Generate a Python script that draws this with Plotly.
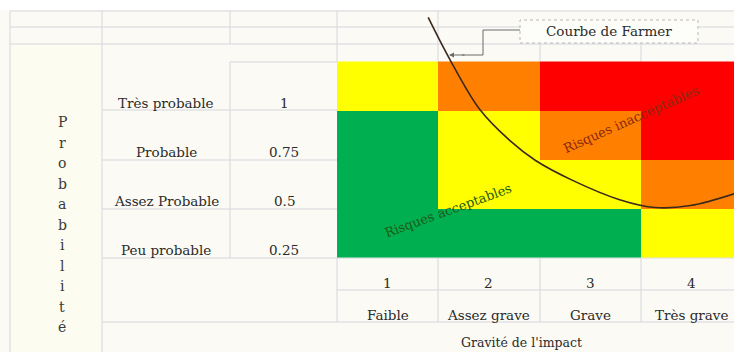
import plotly.graph_objects as go

W, H = 734, 352

# Risk matrix data: probability rows x severity columns
severity = [1, 2, 3, 4]
severity_labels = ["Faible", "Assez grave", "Grave", "Très grave"]
probability = [0.25, 0.5, 0.75, 1]
probability_labels = ["Peu probable", "Assez Probable", "Probable", "Très probable"]
probability_ticks = ["0.25", "0.5", "0.75", "1"]

# risk level per cell (0 = green, 1 = yellow, 2 = orange, 3 = red), rows follow `probability`
risk_level = [
    [0, 0, 0, 1],
    [0, 1, 1, 2],
    [0, 1, 2, 3],
    [1, 2, 3, 3],
]

# Farmer curve (severity, probability)
farmer_x = [1.40, 1.62, 1.91, 2.21, 2.46, 2.82, 3.29, 3.64, 3.99, 4.42]
farmer_y = [1.35, 1.13, 0.88, 0.72, 0.62, 0.52, 0.42, 0.38, 0.39, 0.45]

XR = [-2.827, 4.419]
YR = [-0.357, 1.4388]

BG = "#fbfaf4"
GRID = "#d6d6de"
TXT = "#2a2a2a"
FONT = "DejaVu Serif"
FS = 13.5


def px(x):
    return x / W


def py(y):
    return 1 - y / H


fig = go.Figure()

fig.add_trace(go.Heatmap(
    x=severity, y=probability, z=risk_level,
    zmin=0, zmax=3,
    colorscale=[
        [0.0, "#00b050"], [0.25, "#00b050"],
        [0.25, "#ffff00"], [0.5, "#ffff00"],
        [0.5, "#ff8000"], [0.75, "#ff8000"],
        [0.75, "#ff0000"], [1.0, "#ff0000"],
    ],
    showscale=False, hoverinfo="skip",
))

fig.add_trace(go.Scatter(
    x=farmer_x, y=farmer_y, mode="lines",
    line=dict(color="#3b2a1c", width=1.6, shape="spline", smoothing=1.0),
    hoverinfo="skip", cliponaxis=False,
))

shapes = []
# white strip at the very top
shapes.append(dict(type="rect", xref="paper", yref="paper", x0=0, x1=1, y0=py(10), y1=1,
                   fillcolor="white", line_width=0, layer="below"))
# slightly warmer left column
shapes.append(dict(type="rect", xref="paper", yref="paper", x0=px(10), x1=px(102), y0=0, y1=py(44),
                   fillcolor="#fdfcf0", line_width=0, layer="below"))


def hline(y, x0, x1):
    shapes.append(dict(type="line", xref="paper", yref="paper", x0=px(x0), x1=px(x1),
                       y0=py(y), y1=py(y), line=dict(color=GRID, width=1), layer="below"))


def vline(x, y0, y1):
    shapes.append(dict(type="line", xref="paper", yref="paper", x0=px(x), x1=px(x),
                       y0=py(y0), y1=py(y1), line=dict(color=GRID, width=1), layer="below"))


# spreadsheet grid
hline(11, 10, W)
hline(27, 10, W)
hline(44, 10, W)
hline(62, 230, 337)
for yy in (110, 160, 209, 258):
    hline(yy, 102, 337)
hline(258, 337, W)
hline(290, 337, W)
hline(322, 102, W)
vline(10, 11, H)
vline(102, 11, H)
vline(230, 11, 44)
vline(230, 62, 258)
vline(337, 11, 62)
vline(438, 11, 62)
vline(540, 44, 62)
vline(641, 44, 62)
for xx in (337, 438, 540, 641):
    vline(xx, 258, 322)

# callout box for the curve name
shapes.append(dict(type="rect", xref="paper", yref="paper", x0=px(520), x1=px(698),
                   y0=py(43), y1=py(20), fillcolor="#fdfdf9",
                   line=dict(color="#b8b8b8", width=1, dash="dot")))
shapes.append(dict(type="path", xref="paper", yref="paper",
                   path=f"M {px(520)} {py(30)} L {px(483)} {py(30)} L {px(483)} {py(55)} L {px(462)} {py(55)}",
                   line=dict(color="#6a6a6a", width=1)))


def label(x, y, text, size=FS, color=TXT, xref="paper", yref="paper", **kw):
    return dict(x=x, y=y, xref=xref, yref=yref, text=text, showarrow=False,
                xanchor="center", yanchor="middle",
                font=dict(family=FONT, size=size, color=color), **kw)


annotations = []
annotations.append(label(px(609), py(31.5), "Courbe de Farmer"))
annotations.append(dict(xref="paper", yref="paper", x=px(449), y=py(55), ax=17, ay=0,
                        axref="pixel", ayref="pixel", text="", showarrow=True,
                        arrowhead=2, arrowsize=1, arrowwidth=1, arrowcolor="#6a6a6a"))

# row labels (bottom aligned in their cells)
for p, lab, tick in zip(probability, probability_labels, probability_ticks):
    annotations.append(label(px(166), p, lab, yref="y", yshift=-16.5))
    annotations.append(label(px(284), p, tick, yref="y", yshift=-16.5))

# column labels
for s, lab in zip(severity, severity_labels):
    annotations.append(label(s, py(283), str(s), xref="x"))
    annotations.append(label(s, py(315), lab, xref="x"))

annotations.append(label(px(521), py(342), "Gravité de l'impact", size=12.5))

# vertical axis title, one letter per line
for i, ch in enumerate("Probabilité"):
    annotations.append(label(px(62), py(122 + i * 20.5), ch, size=14, color="#3a3a3a"))

# zone labels
annotations.append(label(px(631), py(120), "Risques inacceptables", size=13,
                         color="#8a2a12", textangle=-24))
annotations.append(label(px(448), py(210), "Risques acceptables", size=13,
                         color="#1d5a14", textangle=-20))

fig.update_layout(
    width=W, height=H,
    margin=dict(l=0, r=0, t=0, b=0),
    paper_bgcolor=BG, plot_bgcolor=BG,
    showlegend=False,
    xaxis=dict(range=XR, visible=False, fixedrange=True),
    yaxis=dict(range=YR, visible=False, fixedrange=True),
    shapes=shapes,
    annotations=annotations,
)

fig.write_html("out.html")
